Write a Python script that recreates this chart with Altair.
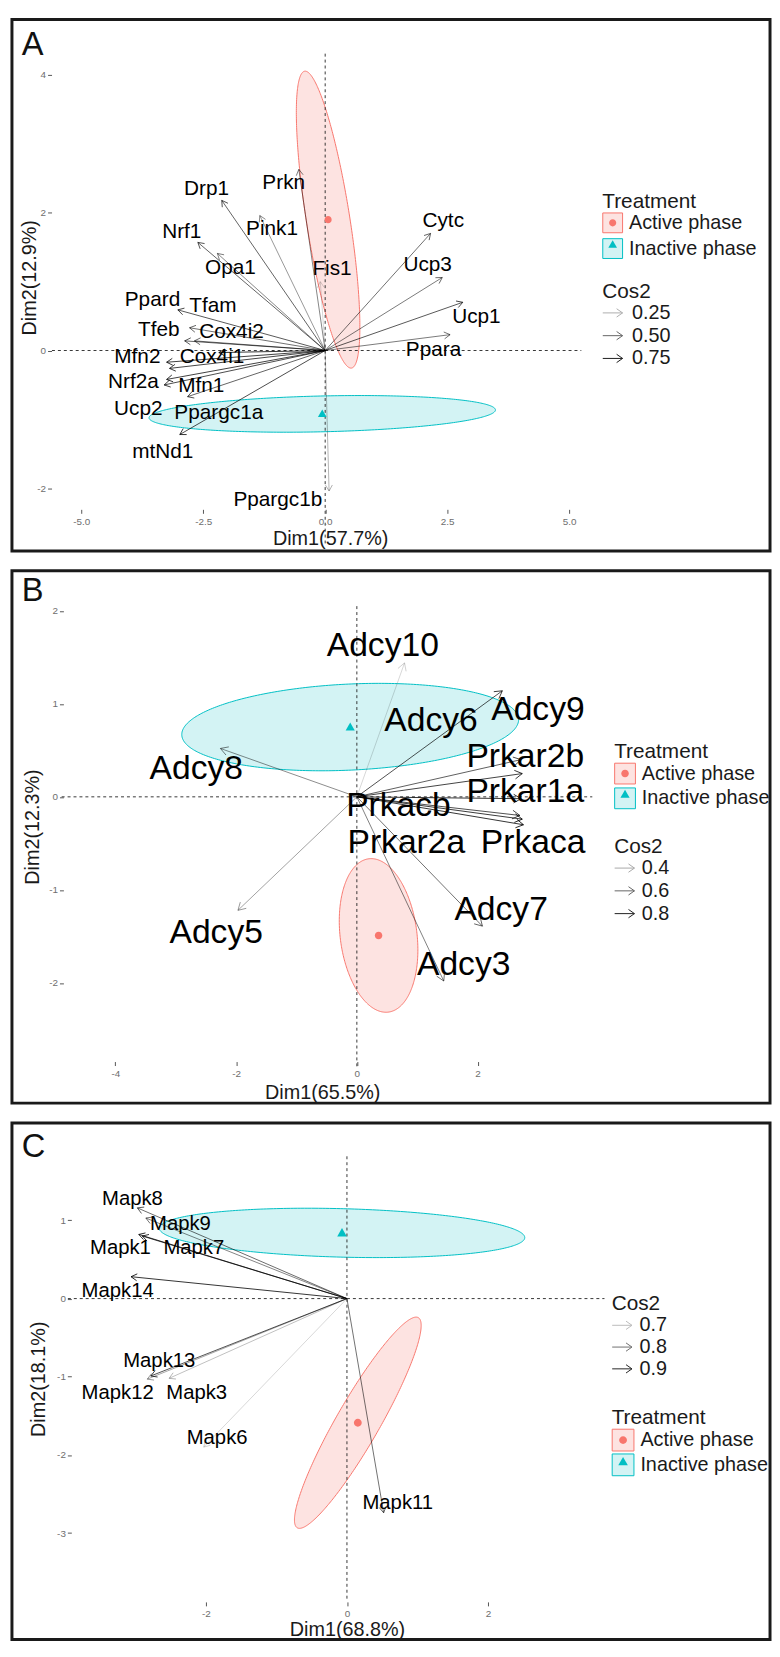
import math
import altair as alt
import numpy as np
import pandas as pd

FONT = "Liberation Sans"
GROUPS = ["Active phase", "Inactive phase"]
FILL_LIGHT = ["#FDE3E1", "#D3F3F4"]
LINE_COLS = ["#F8766D", "#00BFC4"]

# ---------------- Panel A data ----------------
A_genes = ["Prkn", "Drp1", "Pink1", "Nrf1", "Opa1", "Fis1", "Ppard", "Tfam", "Tfeb", "Cox4i2",
           "Mfn2", "Cox4i1", "Nrf2a", "Mfn1", "Ucp2", "Ppargc1a", "mtNd1", "Ppargc1b",
           "Cytc", "Ucp3", "Ucp1", "Ppara"]
A_x = [-0.54, -2.12, -1.34, -2.61, -2.21, -0.10, -3.02, -2.78, -2.88, -2.68,
       -3.25, -2.18, -3.25, -3.19, -3.30, -2.82, -2.98, 0.08,
       2.16, 2.40, 2.82, 2.56]
A_y = [2.63, 2.18, 1.96, 1.57, 1.41, 1.00, 0.59, 0.33, 0.14, 0.14,
       -0.17, -0.03, -0.42, -0.26, -0.50, -0.67, -1.22, -2.04,
       1.70, 1.06, 0.70, 0.23]
A_lx = [-0.85, -2.43, -1.09, -2.94, -1.94, 0.14, -3.54, -2.30, -3.41, -1.92,
        -3.85, -2.32, -3.93, -2.54, -3.83, -2.18, -3.33, -0.97,
        2.42, 2.10, 3.10, 2.22]
A_ly = [2.43, 2.34, 1.77, 1.72, 1.19, 1.18, 0.73, 0.65, 0.30, 0.27,
        -0.10, -0.10, -0.46, -0.52, -0.85, -0.91, -1.47, -2.17,
        1.88, 1.24, 0.49, 0.01]
A_cos2 = [0.50, 0.65, 0.42, 0.65, 0.50, 0.15, 0.70, 0.60, 0.65, 0.60,
          0.80, 0.85, 0.80, 0.78, 0.75, 0.65, 0.75, 0.30,
          0.60, 0.55, 0.70, 0.55]
A_cx = [0.06, -0.06]
A_cy = [1.90, -0.92]
A_ax = [-0.48, 3.55]
A_ay = [2.155, 0.057]
A_bx = [0.44, 0.0]
A_by = [0.05, 0.26]

# ---------------- Panel B data ----------------
B_genes = ["Adcy10", "Adcy9", "Adcy6", "Adcy8", "Prkar2b", "Prkar1a", "Prkacb", "Prkar2a",
           "Prkaca", "Adcy5", "Adcy7", "Adcy3"]
B_x = [0.79, 2.41, 2.72, -2.26, 2.74, 2.72, 2.74, 2.70, 2.76, -1.97, 2.08, 1.44]
B_y = [1.44, 1.14, 0.40, 0.52, 0.25, -0.02, -0.24, -0.20, -0.30, -1.22, -1.39, -1.98]
B_lx = [0.43, 3.00, 1.23, -2.66, 2.79, 2.79, 0.69, 0.82, 2.92, -2.33, 2.39, 1.77]
B_ly = [1.62, 0.93, 0.81, 0.30, 0.43, 0.05, -0.10, -0.50, -0.50, -1.46, -1.22, -1.81]
B_cos2 = [0.30, 0.80, 0.75, 0.58, 0.85, 0.90, 0.88, 0.80, 0.90, 0.50, 0.68, 0.62]
B_cx = [0.36, -0.11]
B_cy = [-1.49, 0.75]
B_ax = [0.164, 2.79]
B_ay = [-0.824, 0.08]
B_bx = [0.63, 0.0]
B_by = [0.054, 0.463]

# ---------------- Panel C data ----------------
C_genes = ["Mapk8", "Mapk9", "Mapk1", "Mapk7", "Mapk14", "Mapk13", "Mapk12", "Mapk3",
           "Mapk6", "Mapk11"]
C_x = [-2.97, -2.85, -2.95, -2.90, -3.06, -2.78, -2.83, -2.52, -2.03, 0.52]
C_y = [1.16, 1.03, 0.82, 0.80, 0.28, -0.99, -1.03, -1.02, -1.90, -2.74]
C_lx = [-3.04, -2.36, -3.21, -2.17, -3.25, -2.66, -3.25, -2.13, -1.84, 0.72]
C_ly = [1.27, 0.95, 0.64, 0.64, 0.10, -0.80, -1.21, -1.21, -1.78, -2.62]
C_cos2 = [0.86, 0.82, 0.93, 0.92, 0.95, 0.90, 0.76, 0.72, 0.68, 0.85]
C_cx = [0.154, -0.07]
C_cy = [-1.588, 0.84]
C_ax = [0.856, 2.59]
C_ay = [1.345, -0.06]
C_bx = [0.271, 0.0]
C_by = [-0.128, 0.31]

HEAD = "M-1,-0.58L0,0L-1,0.58"
CIRC = "M0.36,0A0.36,0.36,0,1,1,-0.36,0A0.36,0.36,0,1,1,0.36,0Z"
TRI = "M0,-0.44L0.44,0.32L-0.44,0.32Z"
ARROW_KEY = "M-1,0L1,0M0.4,-0.42L1,0L0.4,0.42"

VIEW_W = 766


def ellipse_table(cx, cy, ax, ay, bx, by, n=160):
    frames = []
    for g, x0, y0, a1, a2, b1, b2 in zip(GROUPS, cx, cy, ax, ay, bx, by):
        R = math.hypot(a1, b1)
        phi = math.atan2(b1, a1)
        s = np.linspace(0.0, np.pi, n)
        d = -R * np.cos(s)
        acs = np.arccos(np.clip(d / R, -1.0, 1.0))
        t1, t2 = phi + acs, phi - acs
        yA = y0 + a2 * np.cos(t1) + b2 * np.sin(t1)
        yB = y0 + a2 * np.cos(t2) + b2 * np.sin(t2)
        frames.append(pd.DataFrame({"Treatment": g, "x": x0 + d,
                                    "yhi": np.maximum(yA, yB), "ylo": np.minimum(yA, yB)}))
    return pd.concat(frames, ignore_index=True)


def neg_expr(fmt):
    return "(datum.value < 0 ? '-' : '') + format(abs(datum.value), '%s')" % fmt


def panel(letter, genes, xs, ys, lxs, lys, cos2, cx, cy, ax, ay, bx, by, P):
    ux, uy, H = P["ux"], P["uy"], P["H"]
    xdom = [-P["x0"] / ux, (VIEW_W - P["x0"]) / ux]
    ydom = [(P["y0"] - H) / uy, P["y0"] / uy]
    sx = alt.Scale(domain=xdom, nice=False, zero=False)
    sy = alt.Scale(domain=ydom, nice=False, zero=False)

    arrows = pd.DataFrame({"gene": genes, "x": xs, "y": ys, "lx": lxs, "ly": lys, "cos2": cos2})
    arrows["ang"] = (np.degrees(np.arctan2(-arrows["y"] * uy, arrows["x"] * ux)) + 360.0) % 360.0
    ell = ellipse_table(cx, cy, ax, ay, bx, by)
    cen = pd.DataFrame({"Group": GROUPS, "cx": cx, "cy": cy})

    common_leg = dict(orient="none", titleFontSize=21, labelFontSize=20, titleFont=FONT,
                      labelFont=FONT, titleFontWeight="normal", titlePadding=1,
                      padding=0, symbolSize=P["tsz"], symbolStrokeWidth=1, labelOffset=6,
                      rowPadding=P["trow"], legendX=P["tleg"][0], legendY=P["tleg"][1])
    treat_leg = dict(common_leg, title="Treatment", titleColor="#1a1a1a", labelColor="#1a1a1a",
                     symbolType="square", zindex=1)
    # second (marker) legend sits exactly on top of the boxed one; its texts are blank
    sym_leg = dict(common_leg, title=" ", titleColor="transparent",
                   labelColor="transparent", labelExpr="''", zindex=2)
    cos_leg = alt.Legend(title="Cos2", orient="none", legendX=P["cleg"][0], legendY=P["cleg"][1],
                         values=P["cvals"], format=P["cfmt"], symbolType=ARROW_KEY,
                         symbolSize=400, symbolStrokeWidth=1, symbolStrokeColor="black",
                         symbolFillColor="transparent", titleFontSize=21, labelFontSize=20,
                         titleFont=FONT, labelFont=FONT, titleFontWeight="normal",
                         titleColor="#1a1a1a", labelColor="#1a1a1a", titlePadding=1,
                         padding=0, rowPadding=P["crow"], labelOffset=P["coff"])

    op = alt.Opacity("cos2:Q", scale=alt.Scale(domain=[min(cos2), max(cos2)], range=[0.2, 1.0],
                                               zero=False), legend=cos_leg)

    xaxis = alt.Axis(values=P["xv"], labelExpr=neg_expr(P["xfmt"]), offset=P["xo"], grid=False,
                     domain=False, tickSize=4, tickColor="#555555", tickWidth=1,
                     labelColor="#6e6e6e", labelFontSize=10, labelPadding=3, labelFont=FONT,
                     labelFlush=False, labelOverlap=False, title=P["xtitle"], titleFont=FONT,
                     titleFontSize=20, titleFontWeight="normal", titleColor="#1a1a1a",
                     titleX=P["xt"][0], titleY=P["xt"][1], titleAlign="center",
                     titleBaseline="middle", zindex=1)
    yaxis = alt.Axis(values=P["yv"], labelExpr=neg_expr("d"), offset=P["yo"], grid=False,
                     domain=False, tickSize=4, tickColor="#555555", tickWidth=1,
                     labelColor="#6e6e6e", labelFontSize=10, labelPadding=2, labelFont=FONT,
                     labelFlush=False, labelOverlap=False, title=P["ytitle"], titleFont=FONT,
                     titleFontSize=20, titleFontWeight="normal", titleColor="#1a1a1a",
                     titleX=P["yt"][0], titleY=P["yt"][1], titleAngle=270, titleAlign="center",
                     titleBaseline="middle", zindex=1)

    def X(f):
        return alt.X(f, scale=sx, axis=xaxis)

    def Y(f):
        return alt.Y(f, scale=sy, axis=yaxis)

    ell_layer = alt.Chart(ell).mark_area(opacity=1, strokeWidth=1).encode(
        x=X("x:Q"), y=Y("yhi:Q"), y2="ylo:Q",
        fill=alt.Fill("Treatment:N", scale=alt.Scale(domain=GROUPS, range=FILL_LIGHT),
                      legend=alt.Legend(**treat_leg)),
        stroke=alt.Stroke("Treatment:N", scale=alt.Scale(domain=GROUPS, range=LINE_COLS),
                          legend=alt.Legend(**treat_leg)),
    )

    vdf = pd.DataFrame({"x": [0.0], "y": [P["vl"][1]], "y0": [P["vl"][0]]})
    hdf = pd.DataFrame({"y": [0.0], "x": [P["hl"][0]], "x0": [P["hl"][1]]})
    vline = alt.Chart(vdf).mark_rule(strokeDash=[3, 3], color="#222222", strokeWidth=0.9).encode(
        x=X("x:Q"), y=Y("y:Q"), y2="y0:Q")
    hline = alt.Chart(hdf).mark_rule(strokeDash=[3, 3], color="#222222", strokeWidth=0.9).encode(
        y=Y("y:Q"), x=X("x:Q"), x2="x0:Q")

    base = alt.Chart(arrows)
    rules = base.mark_rule(color="black", strokeWidth=0.8).encode(
        x=X("x:Q"), y=Y("y:Q"), x2=alt.datum(0), y2=alt.datum(0), opacity=op)
    heads = base.mark_point(shape=HEAD, size=P["hs"], filled=False, color="black",
                            strokeWidth=0.8).encode(
        x=X("x:Q"), y=Y("y:Q"), angle=alt.Angle("ang:Q", scale=None), opacity=op)
    labels = base.mark_text(fontSize=P["fs"], color="black", font=FONT).encode(
        x=X("lx:Q"), y=Y("ly:Q"), text="gene:N")
    cent = alt.Chart(cen).mark_point(filled=True, size=P["tsz"], opacity=1, strokeWidth=0).encode(
        x=X("cx:Q"), y=Y("cy:Q"),
        color=alt.Color("Group:N", scale=alt.Scale(range=LINE_COLS), legend=alt.Legend(**sym_leg)),
        shape=alt.Shape("Group:N", scale=alt.Scale(range=[CIRC, TRI]),
                        legend=alt.Legend(**sym_leg)),
    )
    tag = alt.Chart(pd.DataFrame({"t": [letter]})).mark_text(
        fontSize=33, font=FONT, color="#111111", align="left", baseline="alphabetic").encode(
        x=alt.value(P["tag"][0]), y=alt.value(P["tag"][1]), text="t:N")

    return alt.layer(ell_layer, vline, hline, rules, heads, labels, cent, tag).properties(
        width=VIEW_W, height=H)


PA = dict(H=537, x0=316.5, y0=334.5, ux=49.3, uy=69.6, xo=-42, yo=-40, xt=(321.5, 30),
          yt=(-22, 260.5), xv=[-5, -2.5, 0, 2.5, 5], xfmt=".1f", yv=[-2, 0, 2, 4],
          xtitle="Dim1(57.7%)", ytitle="Dim2(12.9%)", vl=(-2.8, 4.31), hl=(-5.6, 5.25),
          fs=21, hs=144, tleg=(596.5, 173), tsz=400, trow=1, cleg=(596.5, 264), coff=9,
          cvals=[0.25, 0.5, 0.75], cfmt=".2f", crow=2, tag=(10, 36))
PB = dict(H=538, x0=348.5, y0=228.5, ux=61.0, uy=94.0, xo=-42, yo=-52, xt=(313.5, 31),
          yt=(-31, 258.5), xv=[-4, -2, 0, 2], xfmt="d", yv=[-2, -1, 0, 1, 2],
          xtitle="Dim1(65.5%)", ytitle="Dim2(12.3%)", vl=(-2.9, 2.05), hl=(-4.89, 3.90),
          fs=34, hs=225, tleg=(608.5, 172), tsz=441, trow=-1, cleg=(608.5, 268), coff=7,
          cvals=[0.4, 0.6, 0.8], cfmt=".1f", crow=2, tag=(10, 31))
PC = dict(H=522, x0=338.5, y0=177.5, ux=71.3, uy=79.0, xo=-38, yo=-60, xt=(338.5, 28),
          yt=(-33, 258.5), xv=[-2, 0, 2], xfmt="d", yv=[-3, -2, -1, 0, 1],
          xtitle="Dim1(68.8%)", ytitle="Dim2(18.1%)", vl=(-3.87, 1.82), hl=(-3.955, 3.65),
          fs=20.5, hs=144, tleg=(606, 287), tsz=484, trow=-2, cleg=(606, 172), coff=7,
          cvals=[0.7, 0.8, 0.9], cfmt=".1f", crow=1, tag=(10, 34))

pA = panel("A", A_genes, A_x, A_y, A_lx, A_ly, A_cos2, A_cx, A_cy, A_ax, A_ay, A_bx, A_by, PA)
pB = panel("B", B_genes, B_x, B_y, B_lx, B_ly, B_cos2, B_cx, B_cy, B_ax, B_ay, B_bx, B_by, PB)
pC = panel("C", C_genes, C_x, C_y, C_lx, C_ly, C_cos2, C_cx, C_cy, C_ax, C_ay, C_bx, C_by, PC)

res = dict(color="independent", fill="independent", stroke="independent",
           shape="independent", opacity="independent")
chart = (
    alt.vconcat(pA, pB, pC, spacing=16)
    .resolve_scale(x="independent", y="independent", **res)
    .resolve_legend(**res)
    .properties(padding={"left": 2, "top": 1, "right": 0, "bottom": 0})
    .configure(font=FONT)
    .configure_view(stroke="#1a1a1a", strokeWidth=3)
)

chart.save("out.html", embed_options={"renderer": "svg", "actions": False})
